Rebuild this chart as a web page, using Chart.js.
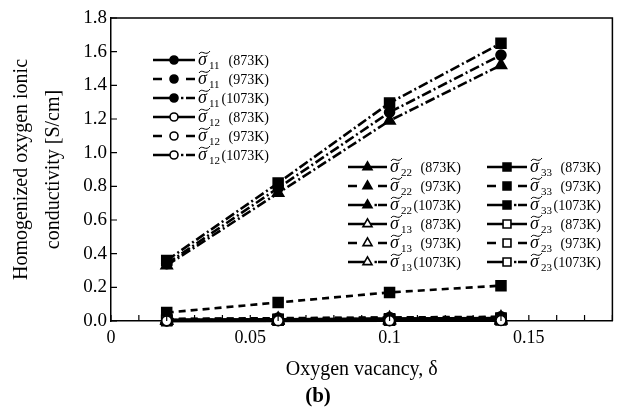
<!DOCTYPE html>
<html>
<head>
<meta charset="utf-8">
<script src="https://cdn.jsdelivr.net/npm/chart.js@4/dist/chart.umd.min.js"></script>
<style>
  html, body { margin: 0; padding: 0; background: #fff; }
  #wrap { width: 621px; height: 415px; }
</style>
</head>
<body>
<div id="wrap"><canvas id="chart" width="621" height="415"></canvas></div>
<script>
// oxygen vacancy values on the x axis
const delta = [0.02, 0.06, 0.10, 0.14];

// homogenized conductivity components [S/cm]
const s11_873 = [0.005, 0.008, 0.011, 0.014];
const s11_973 = [0.012, 0.017, 0.021, 0.025];
const s11_1073 = [0.34, 0.79, 1.24, 1.58];
const s12_873 = [0.001, 0.002, 0.002, 0.003];
const s12_973 = [0.002, 0.003, 0.004, 0.005];
const s12_1073 = [0.003, 0.005, 0.007, 0.009];
const s22_873 = [0.004, 0.007, 0.010, 0.013];
const s22_973 = [0.010, 0.015, 0.019, 0.023];
const s22_1073 = [0.33, 0.76, 1.19, 1.52];
const s13_873 = [0.001, 0.001, 0.002, 0.002];
const s13_973 = [0.002, 0.003, 0.003, 0.004];
const s13_1073 = [0.003, 0.004, 0.006, 0.008];
const s33_873 = [0.006, 0.010, 0.014, 0.018];
const s33_973 = [0.05, 0.11, 0.17, 0.21];
const s33_1073 = [0.36, 0.82, 1.295, 1.65];
const s23_873 = [0.002, 0.004, 0.005, 0.006];
const s23_973 = [0.004, 0.006, 0.008, 0.010];
const s23_1073 = [0.006, 0.009, 0.012, 0.015];

const xTicks = [0, 0.05, 0.1, 0.15];

const FONT = "'Liberation Serif', 'DejaVu Serif', serif";

// marker per component, line style per temperature
const markers = {
  '11': { pointStyle: 'circle', radius: 5, filled: true },
  '12': { pointStyle: 'circle', radius: 5, filled: false },
  '22': { pointStyle: 'triangle', radius: 6.5, filled: true },
  '13': { pointStyle: 'triangle', radius: 6.5, filled: false },
  '33': { pointStyle: 'rect', radius: 7, filled: true },
  '23': { pointStyle: 'rect', radius: 7, filled: false }
};
const dashes = { '873K': [], '973K': [7, 5], '1073K': [10, 3, 2, 3] };

function series(comp, temp, values) {
  const m = markers[comp];
  return {
    label: 'σ' + comp + ' (' + temp + ')',
    comp: comp,
    temp: temp,
    data: values.map((v, i) => ({ x: delta[i], y: v })),
    borderColor: '#000',
    borderWidth: 2.6,
    borderDash: dashes[temp],
    pointStyle: m.pointStyle,
    pointRadius: m.radius,
    pointBorderWidth: 1.6,
    pointBorderColor: '#000',
    pointBackgroundColor: m.filled ? '#000' : '#fff',
    fill: false,
    tension: 0,
    clip: false
  };
}

const datasets = [
  series('12', '873K', s12_873), series('12', '973K', s12_973), series('12', '1073K', s12_1073),
  series('13', '873K', s13_873), series('13', '973K', s13_973), series('13', '1073K', s13_1073),
  series('23', '873K', s23_873), series('23', '973K', s23_973), series('23', '1073K', s23_1073),
  series('11', '873K', s11_873), series('11', '973K', s11_973),
  series('22', '873K', s22_873), series('22', '973K', s22_973),
  series('33', '873K', s33_873), series('33', '973K', s33_973),
  series('22', '1073K', s22_1073), series('11', '1073K', s11_1073), series('33', '1073K', s33_1073)
];

function findSet(comp, temp) {
  return datasets.find(d => d.comp === comp && d.temp === temp);
}

// sigma with a tilde, subscript and temperature
function drawSymbol(ctx, x, y, comp, temp) {
  ctx.fillStyle = '#000';
  ctx.textBaseline = 'alphabetic';
  ctx.textAlign = 'left';
  ctx.font = 'italic 18px ' + FONT;
  ctx.fillText('σ', x, y + 5);
  // tilde
  ctx.beginPath();
  ctx.setLineDash([]);
  ctx.lineWidth = 1;
  ctx.strokeStyle = '#000';
  ctx.moveTo(x + 1, y - 6);
  ctx.bezierCurveTo(x + 4, y - 11, x + 8, y - 3, x + 12, y - 9);
  ctx.stroke();
  ctx.font = '11px ' + FONT;
  ctx.fillText(comp, x + 11, y + 9);
  ctx.font = '14px ' + FONT;
  ctx.textAlign = 'right';
  ctx.fillText('(' + temp + ')', x + 71, y + 5);
}

function drawKey(ctx, ds, x0, x1, y) {
  const mid = (x0 + x1) / 2;
  ctx.save();
  ctx.strokeStyle = '#000';
  ctx.lineWidth = 2.6;
  ctx.setLineDash([]);
  ctx.beginPath();
  if (ds.temp === '873K') {
    ctx.moveTo(x0, y); ctx.lineTo(x1, y);
  } else if (ds.temp === '973K') {
    ctx.moveTo(x0, y); ctx.lineTo(x0 + 9, y);
    ctx.moveTo(x1 - 9, y); ctx.lineTo(x1, y);
  } else {
    ctx.moveTo(x0, y); ctx.lineTo(mid, y);
    ctx.moveTo(x1 - 9, y); ctx.lineTo(x1, y);
  }
  ctx.stroke();
  if (ds.temp === '1073K') {
    ctx.fillStyle = '#000';
    ctx.fillRect(mid + 7, y - 1.2, 2.4, 2.4);
  }
  ctx.fillStyle = ds.pointBackgroundColor;
  ctx.strokeStyle = '#000';
  ctx.lineWidth = ds.pointBorderWidth;
  Chart.helpers.drawPoint(ctx, {
    pointStyle: ds.pointStyle,
    radius: ds.pointRadius * 0.8,
    rotation: 0,
    borderWidth: ds.pointBorderWidth
  }, mid, y);
  ctx.restore();
}

const decor = {
  id: 'decor',
  afterDraw(chart) {
    const ctx = chart.ctx;
    const a = chart.chartArea;
    const xs = chart.scales.x;
    const ys = chart.scales.y;
    ctx.save();
    ctx.strokeStyle = '#000';
    ctx.lineWidth = 1.5;
    ctx.setLineDash([]);
    // top and right frame
    ctx.beginPath();
    ctx.moveTo(a.left, a.top);
    ctx.lineTo(a.right, a.top);
    ctx.lineTo(a.right, a.bottom);
    ctx.stroke();
    // inward ticks
    ctx.lineWidth = 1.2;
    ctx.beginPath();
    xs.ticks.forEach(t => {
      const px = xs.getPixelForValue(t.value);
      ctx.moveTo(px, a.bottom);
      ctx.lineTo(px, a.bottom - 6);
    });
    ys.ticks.forEach(t => {
      const py = ys.getPixelForValue(t.value);
      ctx.moveTo(a.left, py);
      ctx.lineTo(a.left + 6, py);
    });
    ctx.stroke();

    // left legend block
    const left = [['11', '873K'], ['11', '973K'], ['11', '1073K'],
                  ['12', '873K'], ['12', '973K'], ['12', '1073K']];
    left.forEach((k, i) => {
      const y = 60 + i * 19;
      drawKey(ctx, findSet(k[0], k[1]), 153, 195, y);
      drawSymbol(ctx, 198, y, k[0], k[1]);
    });
    // right legend block, two columns
    const colA = [['22', '873K'], ['22', '973K'], ['22', '1073K'],
                  ['13', '873K'], ['13', '973K'], ['13', '1073K']];
    const colB = [['33', '873K'], ['33', '973K'], ['33', '1073K'],
                  ['23', '873K'], ['23', '973K'], ['23', '1073K']];
    colA.forEach((k, i) => {
      const y = 167 + i * 19;
      drawKey(ctx, findSet(k[0], k[1]), 348, 387, y);
      drawSymbol(ctx, 390, y, k[0], k[1]);
    });
    colB.forEach((k, i) => {
      const y = 167 + i * 19;
      drawKey(ctx, findSet(k[0], k[1]), 487, 527, y);
      drawSymbol(ctx, 530, y, k[0], k[1]);
    });

    // panel label
    ctx.fillStyle = '#000';
    ctx.font = 'bold 21px ' + FONT;
    ctx.textAlign = 'center';
    ctx.textBaseline = 'middle';
    ctx.fillText('(b)', 318, 397);
    ctx.restore();
  }
};

Chart.defaults.font.family = FONT;
Chart.defaults.color = '#000';

new Chart(document.getElementById('chart').getContext('2d'), {
  type: 'line',
  data: { datasets: datasets },
  options: {
    responsive: false,
    animation: false,
    layout: { padding: { top: 18, right: 5, left: 0, bottom: 0 } },
    plugins: { legend: { display: false }, tooltip: { enabled: false } },
    scales: {
      x: {
        type: 'linear',
        min: 0,
        max: 0.18,
        afterFit(scale) { scale.height = 94; },
        grid: { display: false, drawTicks: false },
        border: { display: true, color: '#000', width: 1.5 },
        ticks: {
          stepSize: 0.01,
          autoSkip: false,
          maxRotation: 0,
          padding: 6,
          font: { size: 18 },
          callback: (v) => {
            const hit = xTicks.find(t => Math.abs(t - v) < 1e-6);
            return hit === undefined ? '' : String(hit);
          }
        },
        title: {
          display: true,
          text: 'Oxygen vacancy, δ',
          font: { size: 20 },
          padding: { top: 0, bottom: 33 }
        }
      },
      y: {
        min: 0,
        max: 1.8,
        afterFit(scale) { scale.width = 111; },
        grid: { display: false, drawTicks: false },
        border: { display: true, color: '#000', width: 1.5 },
        ticks: {
          stepSize: 0.2,
          padding: 4,
          font: { size: 19 },
          callback: (v) => v.toFixed(1)
        },
        title: {
          display: true,
          text: ['Homogenized oxygen ionic', 'conductivity [S/cm]'],
          font: { size: 20, lineHeight: 1.6 },
          padding: { top: 6, bottom: 0 }
        }
      }
    }
  },
  plugins: [decor]
});
</script>
</body>
</html>
